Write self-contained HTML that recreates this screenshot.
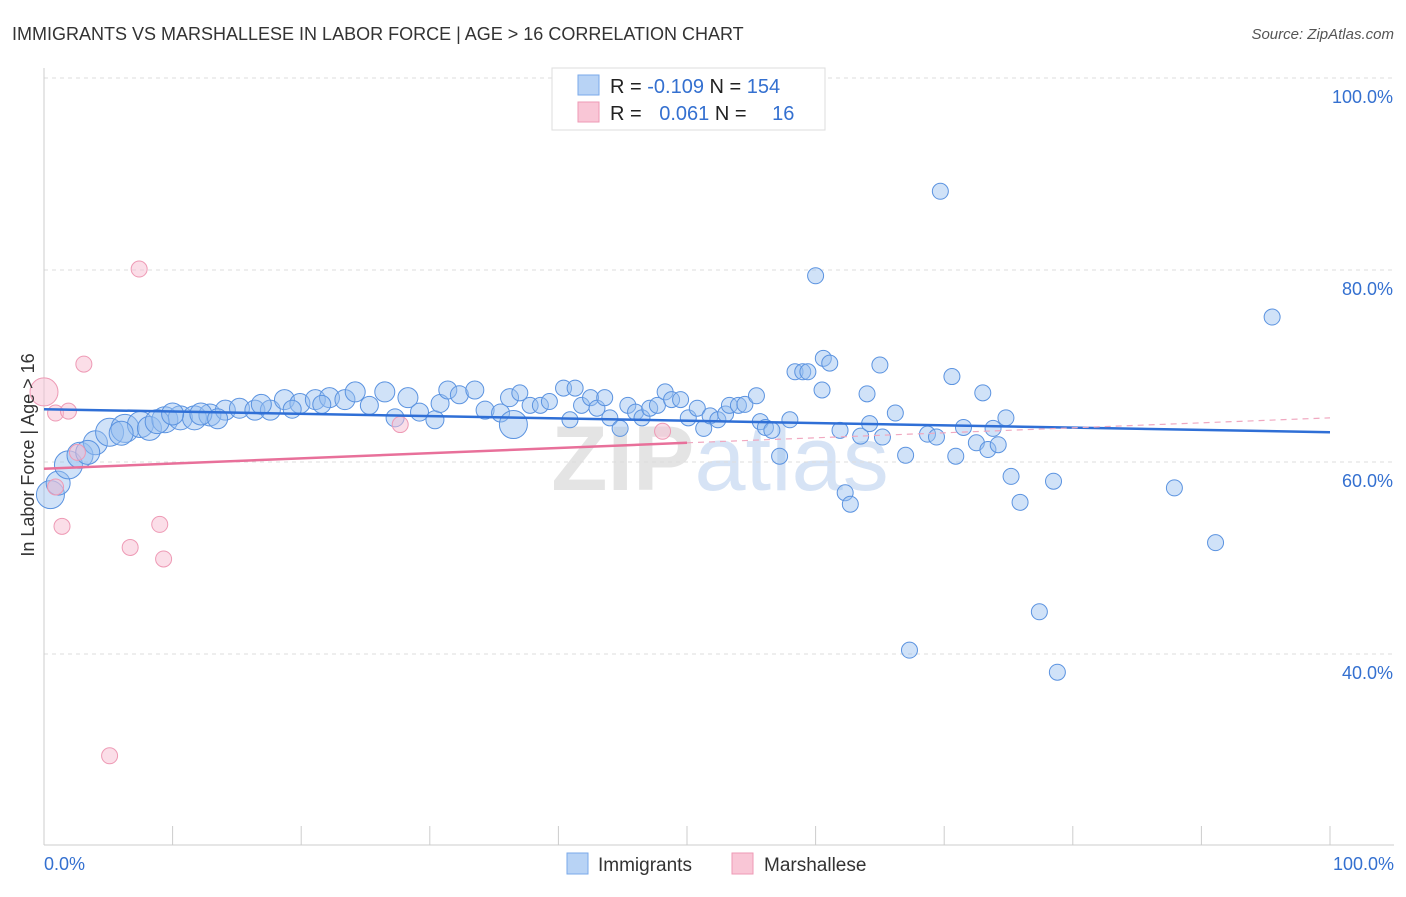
<!DOCTYPE html>
<html><head><meta charset="utf-8"><style>
body{margin:0;background:#fff;font-family:"Liberation Sans",sans-serif;}
svg text{font-family:"Liberation Sans",sans-serif;}
</style></head><body>
<svg id="chart" width="1406" height="892">
<text x="12" y="40" font-size="18" fill="#333">IMMIGRANTS VS MARSHALLESE IN LABOR FORCE | AGE &gt; 16 CORRELATION CHART</text>
<text x="1394" y="39" font-size="15" fill="#555" font-style="italic" text-anchor="end">Source: ZipAtlas.com</text>
<text x="720" y="490" font-size="92" fill="#e4e4e4" text-anchor="middle" font-weight="bold" font-family="Liberation Serif">ZIP<tspan fill="#d6e3f5" font-family="Liberation Sans" font-weight="normal">atlas</tspan></text>
<g id="grid"></g><g id="axes"></g><g id="pts"></g><g id="lines"></g>
<text transform="translate(34,455) rotate(-90)" font-size="18" fill="#333" text-anchor="middle">In Labor Force | Age &gt; 16</text>
<g>
<rect x="552" y="68" width="273" height="62" fill="#fff" stroke="#ddd"/>
<rect x="578" y="75" width="21" height="20" fill="#b8d3f5" stroke="#7aaaea"/>
<rect x="578" y="102" width="21" height="20" fill="#f9c6d6" stroke="#ee9ab5"/>
<text x="610" y="93" font-size="20" fill="#222">R = <tspan fill="#3470d0">-0.109</tspan>   N = <tspan fill="#3470d0">154</tspan></text>
<text x="610" y="120" font-size="20" fill="#222">R = <tspan fill="#3470d0" dx="12">0.061</tspan>   N = <tspan fill="#3470d0" dx="20">16</tspan></text>
</g>
<g>
<rect x="567" y="853" width="21" height="21" fill="#b8d3f5" stroke="#7aaaea"/>
<text x="598" y="871" font-size="19" fill="#333">Immigrants</text>
<rect x="732" y="853" width="21" height="21" fill="#f9c6d6" stroke="#ee9ab5"/>
<text x="764" y="871" font-size="19" fill="#333">Marshallese</text>
</g>
</svg>
<script>
const yTicks=[40,60,80,100];
const yTickLabels=["40.0%","60.0%","80.0%","100.0%"];
const xTicks=[0,10,20,30,40,50,60,70,80,90,100];
const blueX=[0.5,1.1,1.9,2.8,4.0,5.1,6.3,7.5,8.2,9.4,10.6,11.7,12.9,14.1,15.2,16.4,17.6,18.7,19.9,21.1,22.2,23.4,24.2,25.3,26.5,27.3,28.3,29.2,30.4,30.8,31.4,32.3,33.5,34.3,35.5,36.2,36.5,37.0,37.8,38.6,39.3,40.4,40.9,41.3,41.8,42.5,43.0,43.6,44.0,44.8,45.4,46.0,46.5,47.1,47.7,48.3,48.8,49.5,50.1,50.8,51.3,51.8,52.4,53.0,53.3,54.0,54.5,55.4,55.7,56.1,56.6,57.2,58.0,58.4,59.0,59.4,60.0,60.5,60.6,61.1,61.9,62.3,62.7,63.5,64.0,64.2,65.0,65.2,66.2,67.0,67.3,68.7,69.4,69.7,70.6,70.9,71.5,72.5,73.0,73.4,73.8,74.2,74.8,75.2,75.9,77.4,78.5,78.8,87.9,91.1,95.5,3.4,6.0,8.8,10.0,12.2,13.5,16.9,19.3,21.6];
const blueY=[56.6,57.8,59.7,60.7,62.0,63.1,63.5,63.9,63.5,64.4,64.6,64.6,64.9,65.4,65.6,65.4,65.4,66.5,66.1,66.5,66.7,66.5,67.3,65.9,67.3,64.6,66.7,65.2,64.4,66.1,67.5,67.0,67.5,65.4,65.1,66.7,63.9,67.2,65.9,65.9,66.3,67.7,64.4,67.7,65.9,66.7,65.6,66.7,64.6,63.5,65.9,65.2,64.6,65.6,65.9,67.3,66.5,66.5,64.6,65.6,63.5,64.8,64.4,65.0,65.9,65.9,66.0,66.9,64.2,63.6,63.3,60.6,64.4,69.4,69.4,69.4,79.4,67.5,70.8,70.3,63.3,56.8,55.6,62.7,67.1,64.0,70.1,62.6,65.1,60.7,40.4,62.9,62.6,88.2,68.9,60.6,63.6,62.0,67.2,61.3,63.5,61.8,64.6,58.5,55.8,44.4,58.0,38.1,57.3,51.6,75.1,61.0,63.0,64.2,65.0,65.0,64.5,66.0,65.5,66.0];
const blueW=[14,12,14,13,12,14,14,13,12,13,12,12,11,10,10,10,10,10,10,10,10,10,10,9,10,9,10,9,9,9,9,9,9,9,9,9,14,8,8,8,8,8,8,8,8,8,8,8,8,8,8,8,8,8,8,8,8,8,8,8,8,8,8,8,8,8,8,8,8,8,8,8,8,8,8,8,8,8,8,8,8,8,8,8,8,8,8,8,8,8,8,8,8,8,8,8,8,8,8,8,8,8,8,8,8,8,8,8,8,8,8,12,12,12,11,11,10,10,9,9];
const pinkX=[0,0.9,1.9,1.4,3.1,6.7,7.4,9.0,9.3,5.1,0.9,27.7,48.1,2.6];
const pinkY=[67.3,65.1,65.3,53.3,70.2,51.1,80.1,53.5,49.9,29.4,57.4,63.9,63.2,61.0];
const pinkW=[14,8,8,8,8,8,8,8,8,8,8,8,8,8];
const blueTrend=[65.5,63.1];
const pinkTrend=[59.3,62.0,64.6];
const X0=44,X1=1330,Y0=845;
const sx=v=>X0+(X1-X0)*v/100;
const sy=v=>78+(100-v)*9.6;
const NS="http://www.w3.org/2000/svg";
function mk(tag,attrs,parent){const e=document.createElementNS(NS,tag);for(const k in attrs)e.setAttribute(k,attrs[k]);parent.appendChild(e);return e;}
const grid=document.getElementById('grid'),axes=document.getElementById('axes'),pts=document.getElementById('pts'),lines=document.getElementById('lines');
yTicks.forEach((t,i)=>{
 const l=mk('line',{x1:X0,x2:1394,y1:sy(t),y2:sy(t),stroke:'#ddd','stroke-dasharray':'4,4'},grid);
 
 
 const tx=mk('text',{x:1393,y:sy(t)+25,'font-size':18,fill:'#3470d0','text-anchor':'end'},axes);
 tx.textContent=yTickLabels[i];
 
 
});
const ax=mk('line',{x1:X0,x2:1394,y1:Y0,y2:Y0,stroke:'#ccc'},axes);


const ay=mk('line',{x1:X0,x2:X0,y1:68,y2:Y0,stroke:'#ccc'},axes);


xTicks.forEach(t=>{
 const l=mk('line',{x1:sx(t),x2:sx(t),y1:826,y2:Y0,stroke:'#ccc'},axes);
 
 
});
[[0,"0.0%","start",X0],[100,"100.0%","end",1394]].forEach(a=>{
 const tx=mk('text',{x:a[3],y:870,'font-size':18,fill:'#3470d0','text-anchor':a[2]},axes);
 tx.textContent=a[1];
 
 
});
blueX.forEach((x,i)=>{
 const c=mk('circle',{cx:sx(x),cy:sy(blueY[i]),r:blueW[i],fill:'rgba(150,190,240,0.45)',stroke:'#5b93e0','stroke-width':1},pts);
 
 
});
pinkX.forEach((x,i)=>{
 const c=mk('circle',{cx:sx(x),cy:sy(pinkY[i]),r:pinkW[i],fill:'rgba(248,190,210,0.5)',stroke:'#ee9ab5','stroke-width':1},pts);
 
 
});
const bt=mk('line',{x1:sx(0),y1:sy(blueTrend[0]),x2:sx(100),y2:sy(blueTrend[1]),stroke:'#2f6fd6','stroke-width':2.5},lines);


const pt=mk('line',{x1:sx(0),y1:sy(pinkTrend[0]),x2:sx(50),y2:sy(pinkTrend[1]),stroke:'#e8709a','stroke-width':2.5},lines);


const pd=mk('line',{x1:sx(50),y1:sy(pinkTrend[1]),x2:sx(100),y2:sy(pinkTrend[2]),stroke:'#f0a8c0','stroke-width':1.2,'stroke-dasharray':'6,5'},lines);


</script>
</body></html>
